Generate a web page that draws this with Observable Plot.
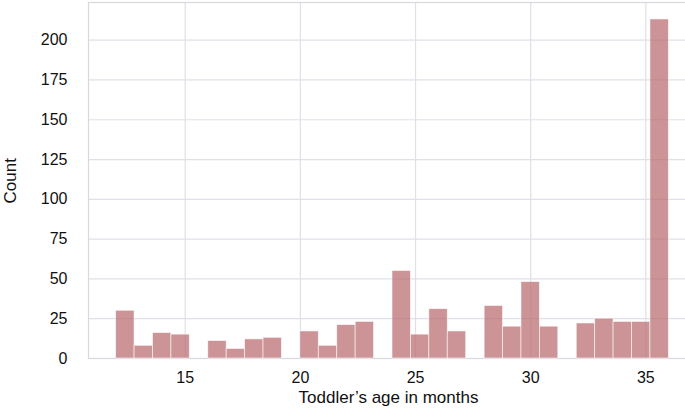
<!DOCTYPE html>
<html>
<head>
<meta charset="utf-8">
<script src="https://cdn.jsdelivr.net/npm/d3@7"></script>
<script src="https://cdn.jsdelivr.net/npm/@observablehq/plot@0.6"></script>
<style>
  html, body { margin: 0; padding: 0; background: #ffffff; }
  #chart svg { overflow: hidden; display: block; }
</style>
</head>
<body>
<div id="chart"></div>
<script>
// Toddler's age in months (integer values) and their counts
const ages   = [12, 13, 14, 15, 16, 17, 18, 19, 20, 21, 22, 23, 24, 25, 26, 27, 28, 29, 30, 31, 32, 33, 34, 35, 36];
const counts = [30,  8, 16, 15, 11,  6, 12, 13, 17,  8, 21, 23, 55, 15, 31, 17, 33, 20, 48, 20, 22, 25, 23, 23, 213];

// Histogram settings (30 equal bins between min and max age)
const binCount = 30;
const xTicks = [15, 20, 25, 30, 35];
const yTicks = [0, 25, 50, 75, 100, 125, 150, 175, 200];

const xLabel = "Toddler\u2019s age in months";
const yLabel = "Count";

const minAge = d3.min(ages), maxAge = d3.max(ages);
const binWidth = (maxAge - minAge) / binCount;
const bars = ages.map((a, i) => {
  const b = Math.min(binCount - 1, Math.floor((a - minAge) / binWidth + 1e-9));
  return {x1: minAge + b * binWidth, x2: minAge + (b + 1) * binWidth, count: counts[i]};
});

const xPad = (maxAge - minAge) * 0.05;
const yMax = d3.max(counts) * 1.05;

const font = "Liberation Sans, Arial, Helvetica, sans-serif";

const chart = Plot.plot({
  width: 685,
  height: 408,
  marginLeft: 88,
  marginRight: -11,
  marginTop: 2,
  marginBottom: 50,
  style: {fontFamily: font, fontSize: "16px", color: "#111", background: "#ffffff"},
  x: {domain: [minAge - xPad, maxAge + xPad]},
  y: {domain: [0, yMax]},
  marks: [
    Plot.gridX(xTicks, {stroke: "#e0e0e8", strokeOpacity: 1, strokeWidth: 1.2}),
    Plot.gridY(yTicks, {stroke: "#e0e0e8", strokeOpacity: 1, strokeWidth: 1.2}),
    Plot.frame({stroke: "#d8d8e0", strokeWidth: 1.2}),
    Plot.rectY(bars, {x1: "x1", x2: "x2", y: "count", fill: "#bb7074", fillOpacity: 0.75, stroke: "#ffffff", strokeWidth: 0.8, strokeOpacity: 0.7}),
    Plot.axisX(xTicks, {tickSize: 0, tickPadding: 13, fontSize: 16, label: null}),
    Plot.axisY(yTicks, {tickSize: 0, tickPadding: 21, fontSize: 16, label: null}),
    Plot.text([xLabel], {frameAnchor: "bottom", dx: -4, dy: 39, fontSize: 17, lineAnchor: "middle"}),
    Plot.text([yLabel], {frameAnchor: "left", rotate: -90, dx: -78, dy: 23, fontSize: 17, lineAnchor: "middle"})
  ]
});

document.getElementById("chart").appendChild(chart);
</script>
</body>
</html>
